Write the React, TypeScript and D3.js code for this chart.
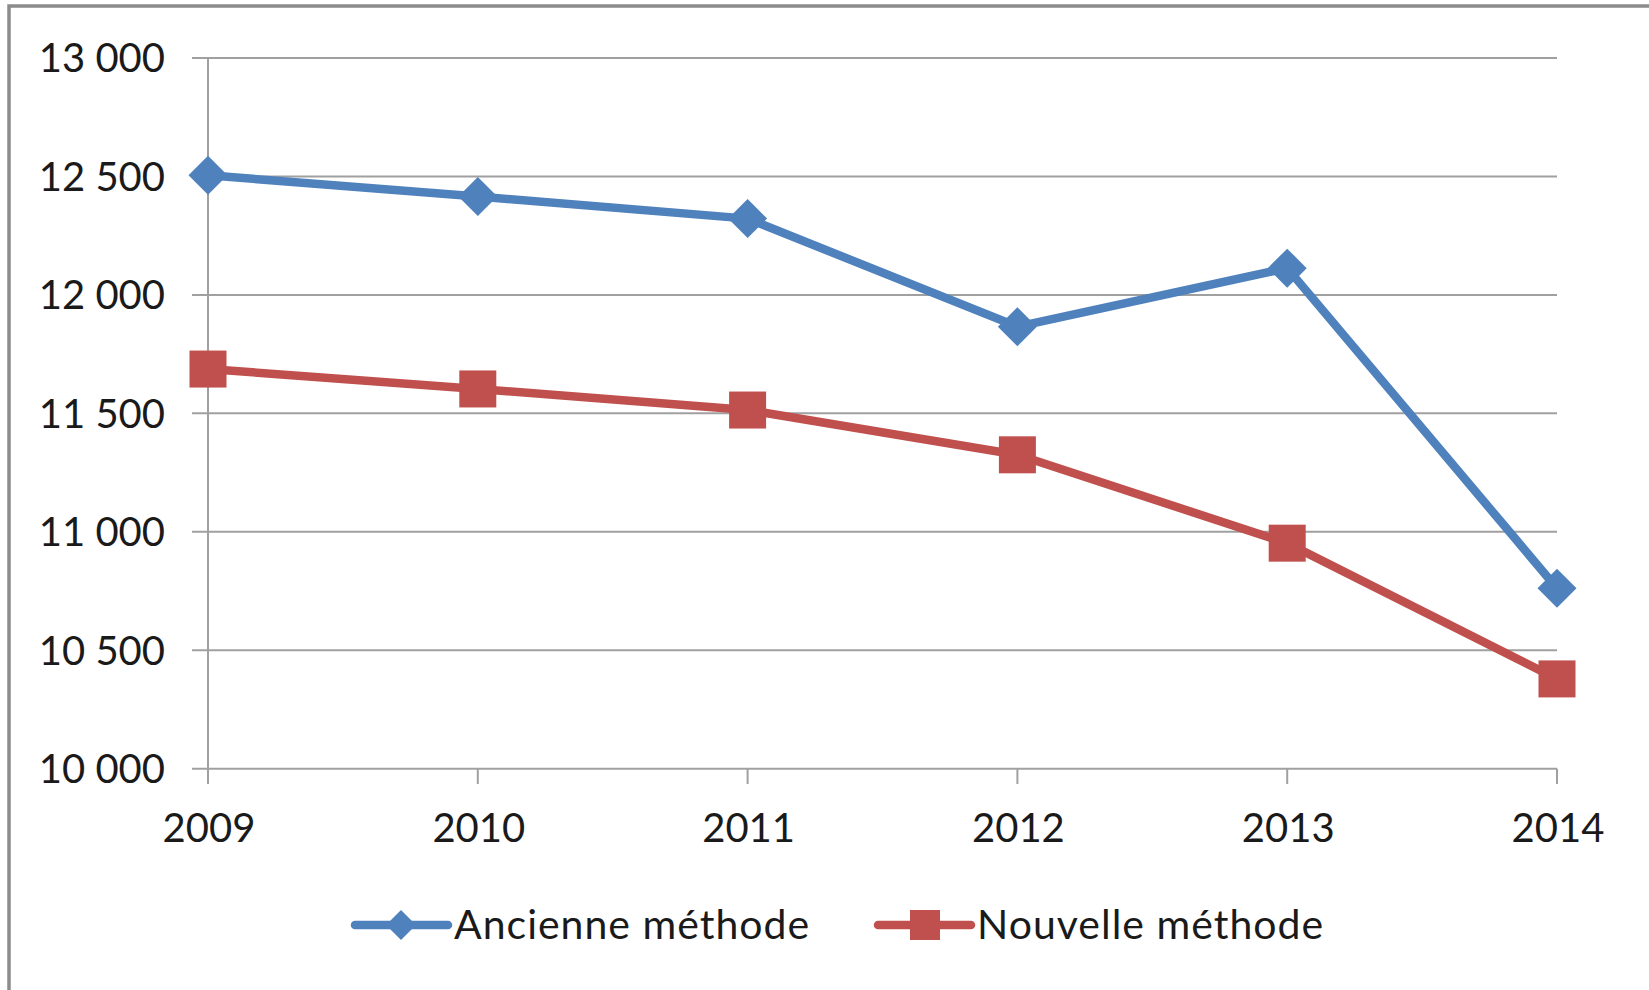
import React from "react";
import * as d3 from "d3";

const years = ["2009", "2010", "2011", "2012", "2013", "2014"];
const ancienne = [12505, 12415, 12322, 11866, 12113, 10762];
const nouvelle = [11687, 11603, 11514, 11325, 10952, 10379];
const yTicks = [10000, 10500, 11000, 11500, 12000, 12500, 13000];
const seriesNames = ["Ancienne méthode", "Nouvelle méthode"];
const colors = ["#4F81BD", "#C0504D"];

const W = 1649;
const H = 990;
const FONT = "Lato, 'Open Sans', sans-serif";

const fmt = (v: number) => d3.format(",")(v).replace(/,/g, " ");

export default function App() {
  const x = d3.scalePoint<string>().domain(years).range([208, 1557]);
  const y = d3.scaleLinear().domain([10000, 13000]).range([768.7, 58]);
  const line = d3
    .line<number>()
    .x((_, i) => x(years[i]) as number)
    .y((d) => y(d));

  const diamond = (cx: number, cy: number, r: number) =>
    `M${cx},${cy - r}L${cx + r},${cy}L${cx},${cy + r}L${cx - r},${cy}Z`;

  const legendItems = [
    { lx1: 355, lx2: 448, mx: 401, tx: 454 },
    { lx1: 878, lx2: 971, mx: 925, tx: 977 },
  ];
  const ly = 925;

  return (
    <svg
      width={W}
      height={H}
      style={{ position: "absolute", left: 0, top: 0, background: "#fff" }}
      fontFamily={FONT}
    >
      <rect x={0} y={0} width={W} height={H} fill="#fff" />
      <rect
        x={9}
        y={6}
        width={W + 20}
        height={H + 20}
        fill="none"
        stroke="#8c8c8c"
        strokeWidth={3.5}
      />
      {yTicks.map((t) => (
        <line
          key={t}
          x1={192}
          x2={1557}
          y1={y(t)}
          y2={y(t)}
          stroke="#a0a0a0"
          strokeWidth={2}
        />
      ))}
      <line x1={208} x2={208} y1={y(13000)} y2={784} stroke="#a0a0a0" strokeWidth={2} />
      {years.map((yr) => (
        <line
          key={yr}
          x1={x(yr)}
          x2={x(yr)}
          y1={y(10000)}
          y2={784}
          stroke="#a0a0a0"
          strokeWidth={2}
        />
      ))}
      {yTicks.map((t) => (
        <text
          key={t}
          x={165}
          y={y(t)}
          dy="0.36em"
          textAnchor="end"
          fontSize={40}
          fill="#1a1a1a"
        >
          {fmt(t)}
        </text>
      ))}
      {years.map((yr) => (
        <text
          key={yr}
          x={(x(yr) as number) + 1}
          y={842}
          textAnchor="middle"
          fontSize={40}
          fill="#1a1a1a"
        >
          {yr}
        </text>
      ))}
      <path
        d={line(ancienne) || ""}
        fill="none"
        stroke={colors[0]}
        strokeWidth={8.5}
        strokeLinejoin="round"
      />
      <path
        d={line(nouvelle) || ""}
        fill="none"
        stroke={colors[1]}
        strokeWidth={8.5}
        strokeLinejoin="round"
      />
      {ancienne.map((v, i) => (
        <path key={i} d={diamond(x(years[i]) as number, y(v), 19.5)} fill={colors[0]} />
      ))}
      {nouvelle.map((v, i) => (
        <rect
          key={i}
          x={(x(years[i]) as number) - 18.5}
          y={y(v) - 18.5}
          width={37}
          height={37}
          fill={colors[1]}
        />
      ))}
      {legendItems.map((it, i) => (
        <g key={i}>
          <line
            x1={it.lx1}
            x2={it.lx2}
            y1={ly}
            y2={ly}
            stroke={colors[i]}
            strokeWidth={8.5}
            strokeLinecap="round"
          />
          {i === 0 ? (
            <path d={diamond(it.mx, ly, 15)} fill={colors[0]} />
          ) : (
            <rect x={it.mx - 15} y={ly - 15} width={30} height={30} fill={colors[1]} />
          )}
          <text x={it.tx} y={939} fontSize={41} letterSpacing={1} fill="#1a1a1a">
            {seriesNames[i]}
          </text>
        </g>
      ))}
    </svg>
  );
}
